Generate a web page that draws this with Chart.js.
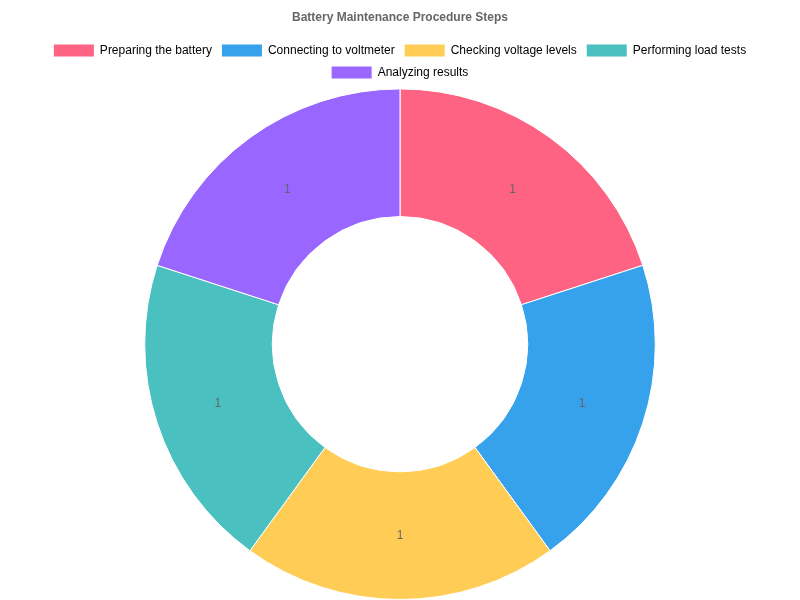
<!DOCTYPE html>
<html>
<head>
<meta charset="utf-8">
<title>Battery Maintenance Procedure Steps</title>
<script src="https://cdn.jsdelivr.net/npm/chart.js@4"></script>
<style>
  html, body { margin: 0; padding: 0; background: #fff; }
  #wrap { width: 800px; height: 600px; }
</style>
</head>
<body>
<div id="wrap"><canvas id="stepsChart"></canvas></div>
<script>
const steps = [
  "Preparing the battery",
  "Connecting to voltmeter",
  "Checking voltage levels",
  "Performing load tests",
  "Analyzing results",
];
const stepCounts = [1, 1, 1, 1, 1];
const stepColors = [
  "rgb(255, 99, 132)",
  "rgb(54, 162, 235)",
  "rgb(255, 205, 86)",
  "rgb(75, 192, 192)",
  "rgb(153, 102, 255)",
];

Chart.defaults.font.family = "'Liberation Sans', Arial, sans-serif";
Chart.defaults.color = "#666";

// draws the value in the middle of each arc (no datalabels plugin offline)
const sliceLabels = {
  id: "sliceLabels",
  afterDatasetsDraw(chart) {
    const ctx = chart.ctx;
    const meta = chart.getDatasetMeta(0);
    ctx.save();
    ctx.font = "12px 'Liberation Sans', Arial, sans-serif";
    ctx.fillStyle = "#666";
    ctx.textAlign = "center";
    ctx.textBaseline = "middle";
    meta.data.forEach((arc, i) => {
      const pos = arc.tooltipPosition();
      ctx.fillText(String(chart.data.datasets[0].data[i]), pos.x, pos.y);
    });
    ctx.restore();
  },
};

const stepsChart = document.getElementById("stepsChart");

new Chart(stepsChart, {
  type: "doughnut",
  data: {
    labels: steps,
    datasets: [
      {
        data: stepCounts,
        backgroundColor: stepColors,
        borderColor: "#fff",
        borderWidth: 1,
      },
    ],
  },
  options: {
    responsive: true,
    maintainAspectRatio: false,
    animation: false,
    cutout: "50%",
    plugins: {
      title: {
        display: true,
        text: "Battery Maintenance Procedure Steps",
        font: { size: 12, weight: "bold" },
        color: "#666",
        padding: { top: 10, bottom: 10 },
      },
      legend: {
        position: "top",
        labels: {
          boxWidth: 40,
          boxHeight: 12,
          font: { size: 12 },
          color: "#666",
          generateLabels(chart) {
            return chart.data.labels.map((label, i) => ({
              text: label,
              fillStyle: stepColors[i],
              strokeStyle: stepColors[i],
              lineWidth: 0,
              hidden: false,
              index: i,
            }));
          },
        },
      },
      tooltip: { enabled: false },
    },
  },
  plugins: [sliceLabels],
});
</script>
</body>
</html>
